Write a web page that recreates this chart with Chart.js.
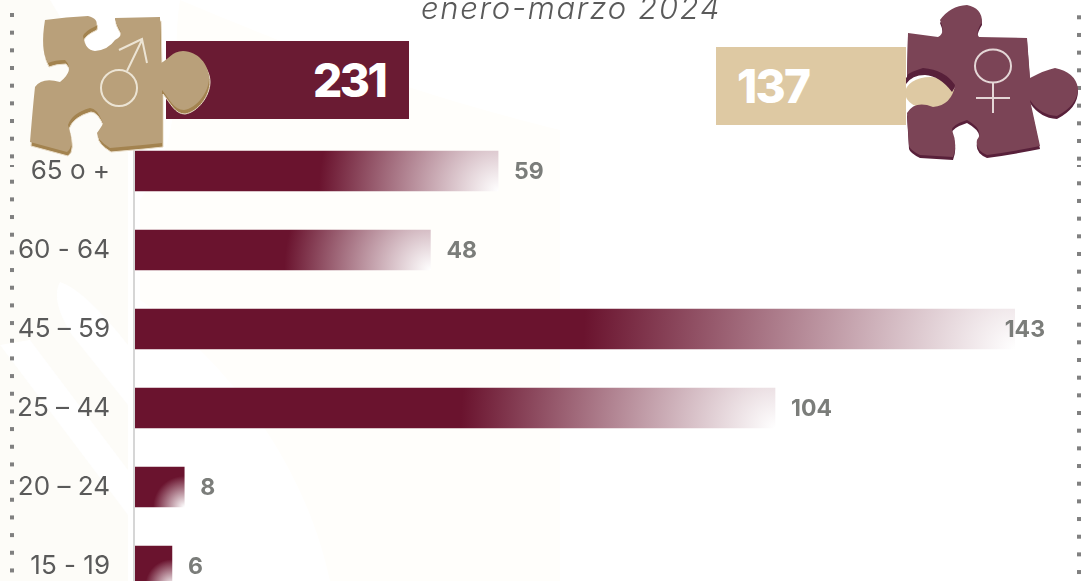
<!DOCTYPE html>
<html lang="es">
<head>
<meta charset="utf-8">
<title>Defunciones por edad</title>
<script src="https://cdn.jsdelivr.net/npm/chart.js@4"></script>
<style>
  html, body { margin: 0; width: 1087px; height: 581px; overflow: hidden; background: #fff; }
  body { position: relative; font-family: Inter, "Open Sans", sans-serif; }
  #bg, #pieces, #chart { position: absolute; left: 0; top: 0; }
  .title { position: absolute; left: 421px; top: -11px; font-size: 31px; letter-spacing: 1.7px; font-style: italic; font-weight: 300; color: #5a5a5a; white-space: nowrap; }
  .box { position: absolute; height: 78px; color: #fff; font-size: 46px; font-weight: 800; line-height: 78px; }
  #box-men { left: 166px; top: 41px; width: 243px; background: #6a1b33; letter-spacing: -2.5px; }
  #box-men span { position: absolute; left: 147px; }
  #box-women { left: 716px; top: 47px; width: 190px; background: #dec9a3; letter-spacing: -1.8px; }
  #box-women span { position: absolute; left: 21px; }
</style>
</head>
<body>
<svg id="bg" width="1087" height="581">
  <path fill="#fdfcf8" d="M0 0H50L128 130V581H0Z"/>
  <path fill="#fff" d="M60 282Q85 290 128 345V405L72 335Q50 300 60 282ZM0 345L128 515V470L30 340Z"/>
  <path fill="#fffefb" d="M180 0C300 50 400 90 560 130V581H330C300 440 200 340 140 300V200C190 130 170 60 180 0Z"/>
</svg>
<canvas id="chart" width="1087" height="640"></canvas>
<div class="title" id="title"></div>
<div class="box" id="box-men"><span id="men"></span></div>
<div class="box" id="box-women"><span id="women"></span></div>
<svg id="pieces" width="1087" height="581">
  <defs>
    <path id="male-shape" d="M45 20Q66 17 88 16Q99 19 96 26Q85 31 83 36Q85 50 95 51Q108 50 115 40Q123 36 120 30Q114 20 115 18L160 17L161 63C168 60 172 51 183 51C198 51 209 65 209 78C209 92 197 108 184 110C174 110 170 100 162 90L162 143L143 145L110 148Q97 140 97 133Q104 123 103 123Q97 108 90 108Q72 113 68 125Q75 147 67 152L30 142Q33 105 35 87Q42 77 60 82Q75 70 65 60Q55 60 48 63Q40 50 45 20Z"/>
    <path id="female-shape" d="M908 33L938 37Q946 33 940 20Q950 6 967 5Q982 8 982 22Q975 33 979 37L1027 38L1030 78Q1045 70 1055 68Q1075 72 1078 88Q1078 105 1057 116Q1040 115 1030 100L1040 146Q1010 152 987 155Q975 150 977 140Q985 130 967 120Q952 125 952 130Q958 145 953 157L920 155Q910 150 909 146L907 113Q915 100 933 107Q952 105 955 85Q945 70 923 68Q910 72 907 75Z"/>
  </defs>
  <ellipse cx="930" cy="93" rx="25" ry="16" fill="#dec9a3"/>
  <path fill="#58203a" d="M906 78Q912 69 925 69Q945 70 955 87L952 92Q940 76 925 75Q912 75 906 84Z"/>
  <!-- hombre -->
  <use href="#male-shape" transform="translate(1,4)" fill="#a3834f" stroke="#e8dcc8"/>
  <use href="#male-shape" fill="#b9a07a"/>
  <g fill="none" stroke="#ece4d4" stroke-width="2">
    <circle cx="119" cy="88" r="18"/>
    <path d="M127 71L142 40M119 50L142 39L147 63"/>
  </g>
  <!-- mujer -->
  <use href="#female-shape" transform="translate(0,3)" fill="#58203a"/>
  <use href="#female-shape" fill="#7b4456"/>
  <g fill="none" stroke="#e4d6d6" stroke-width="2">
    <ellipse cx="993" cy="66" rx="18" ry="16.500"/>
    <path d="M993 83V113M976 98H1010"/>
  </g>
</svg>
<script>
const ageGroups = ["65 o +", "60 - 64", "45 – 59", "25 – 44", "20 – 24", "15 - 19"];
const deaths = [59, 48, 143, 104, 8, 6];
const totalMen = 231;
const totalWomen = 137;
const titleText = "enero-marzo 2024";

document.getElementById("title").textContent = titleText;
document.getElementById("men").textContent = totalMen;
document.getElementById("women").textContent = totalWomen;

// Every bar fades out from its lower right corner
const barFill = (context) => {
  const { chart, dataIndex, type } = context;
  if (type !== "data" || !chart.chartArea) return "#6a132e";
  const left = chart.scales.x.getPixelForValue(0);
  const right = chart.scales.x.getPixelForValue(deaths[dataIndex]);
  const middle = chart.scales.y.getPixelForValue(dataIndex);
  if (![left, right, middle].every(Number.isFinite)) return "#6a132e";
  const bottom = middle + 20;
  const radius = Math.hypot(right - left, 40) * 0.49;
  const g = chart.ctx.createRadialGradient(right, bottom, 0, right, bottom, radius);
  g.addColorStop(0, "#ffffff");
  g.addColorStop(1, "#6a132e");
  return g;
};

// Rows are 79px apart, the last one runs off the page
const rowPitch = {
  id: "rowPitch",
  afterLayout(chart) {
    const y = chart.scales.y;
    y.bottom = y.top + 79 * ageGroups.length;
    y.height = y.bottom - y.top;
    y.configure();
    chart.chartArea.bottom = y.bottom;
    chart.chartArea.height = y.height;
  },
};

// Value next to each bar, kept inside the right margin
const valueLabels = {
  id: "valueLabels",
  afterDatasetsDraw(chart) {
    const { ctx } = chart;
    ctx.save();
    ctx.font = "700 23px Inter";
    ctx.fillStyle = "#7b7d7a";
    ctx.textBaseline = "middle";
    chart.getDatasetMeta(0).data.forEach((bar, i) => {
      const text = String(deaths[i]);
      const x = Math.min(bar.x + 16, 1045 - ctx.measureText(text).width);
      ctx.fillText(text, x, bar.y + 1);
    });
    ctx.restore();
  },
};

// Dotted border on both sides, the frame is made of two pieces that meet at 166.
// The axis line sits just left of the bars.
const frame = {
  id: "frame",
  beforeDraw(chart) {
    const { ctx, chartArea } = chart;
    const column = (x, first, second) => {
      for (let y = first; y < 160; y += 17.67) ctx.fillRect(x, y - 2, 4, 4);
      ctx.fillRect(x, 165, 4, 2);
      for (let y = second; y < 581; y += 17.67) ctx.fillRect(x, y - 2, 4, 4);
    };
    ctx.save();
    ctx.fillStyle = "#808080";
    column(10, 15, 181.7);
    column(1077, 17.3, 183.3);
    ctx.fillStyle = "#d6d6d6";
    ctx.fillRect(chartArea.left - 2, chartArea.top, 2, chartArea.height);
    ctx.restore();
  },
};

new Chart(document.getElementById("chart"), {
  type: "bar",
  data: {
    labels: ageGroups,
    datasets: [{
      data: deaths,
      backgroundColor: barFill,
      barThickness: 40,
    }],
  },
  plugins: [rowPitch, valueLabels, frame],
  options: {
    indexAxis: "y",
    responsive: false,
    animation: false,
    layout: { padding: { left: 0, right: 72, top: 131.5, bottom: 34 } },
    plugins: { legend: { display: false }, tooltip: { enabled: false } },
    scales: {
      x: { display: false, min: 0, max: 143 },
      y: {
        afterFit(scale) { scale.width = 135; },
        grid: { display: false, drawTicks: false },
        border: { display: false },
        ticks: { color: "#5a5a5a", font: { family: "Inter", size: 26 }, padding: 25 },
      },
    },
  },
});
</script>
</body>
</html>
